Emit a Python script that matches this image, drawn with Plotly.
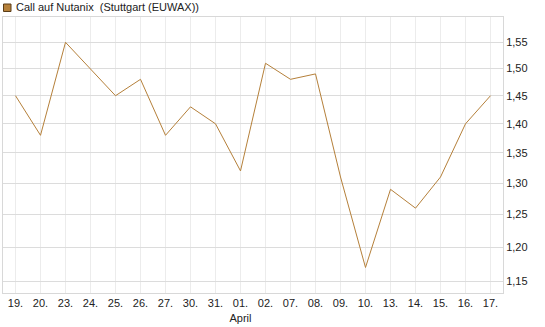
import plotly.graph_objects as go
import math

dates = ["19.", "20.", "23.", "24.", "25.", "26.", "27.", "30.", "31.", "01.",
         "02.", "07.", "08.", "09.", "10.", "13.", "14.", "15.", "16.", "17."]
values = [1.45, 1.38, 1.55, 1.50, 1.45, 1.48, 1.38, 1.43, 1.40, 1.32,
          1.51, 1.48, 1.49, 1.31, 1.17, 1.29, 1.26, 1.31, 1.40, 1.45]
tick_text = [d if d != "01." else "01.<br>April" for d in dates]
y_ticks = [1.15, 1.20, 1.25, 1.30, 1.35, 1.40, 1.45, 1.50, 1.55]
series_name = "Call auf Nutanix  (Stuttgart (EUWAX))"

x = list(range(len(dates)))
fig = go.Figure()
fig.add_trace(go.Scatter(x=x, y=values, mode="lines",
                         line=dict(color="#b5803a", width=1), showlegend=False,
                         hoverinfo="skip"))

fig.update_layout(
    width=545, height=327,
    margin=dict(l=3, r=42, t=17, b=34),
    paper_bgcolor="white", plot_bgcolor="white",
    font=dict(family="Liberation Sans, Arial, sans-serif", size=11, color="#222"),
    separators=",.",
    xaxis=dict(range=[-0.5, len(dates) - 0.5], tickmode="array", tickvals=x,
               ticktext=tick_text, showgrid=True, gridcolor="#ececec", gridwidth=1,
               showline=True, linecolor="#d8d8d8", mirror=True, zeroline=False,
               ticks="", tickfont=dict(size=11)),
    yaxis=dict(type="log", range=[math.log10(1.1333), math.log10(1.5998)],
               side="right", tickmode="array", tickvals=y_ticks,
               ticktext=[f"{v:.2f}".replace(".", ",") for v in y_ticks],
               showgrid=True, gridcolor="#dcdcdc", gridwidth=1,
               showline=True, linecolor="#d8d8d8", mirror=True, zeroline=False,
               ticks="", tickfont=dict(size=11)),
    shapes=[dict(type="rect", xref="paper", yref="paper",
                 x0=0.5 / 500, x1=8 / 500, y0=(293 - 11.5) / 276, y1=(293 - 4) / 276,
                 fillcolor="#b5803a", line=dict(color="#5a3d18", width=1))],
    annotations=[dict(text=series_name, xref="paper", yref="paper",
                      x=11 / 500, y=(293 - 7.5) / 276, xanchor="left", yanchor="middle",
                      showarrow=False, font=dict(size=11, color="#222"))],
)

fig.write_html("out.html")
